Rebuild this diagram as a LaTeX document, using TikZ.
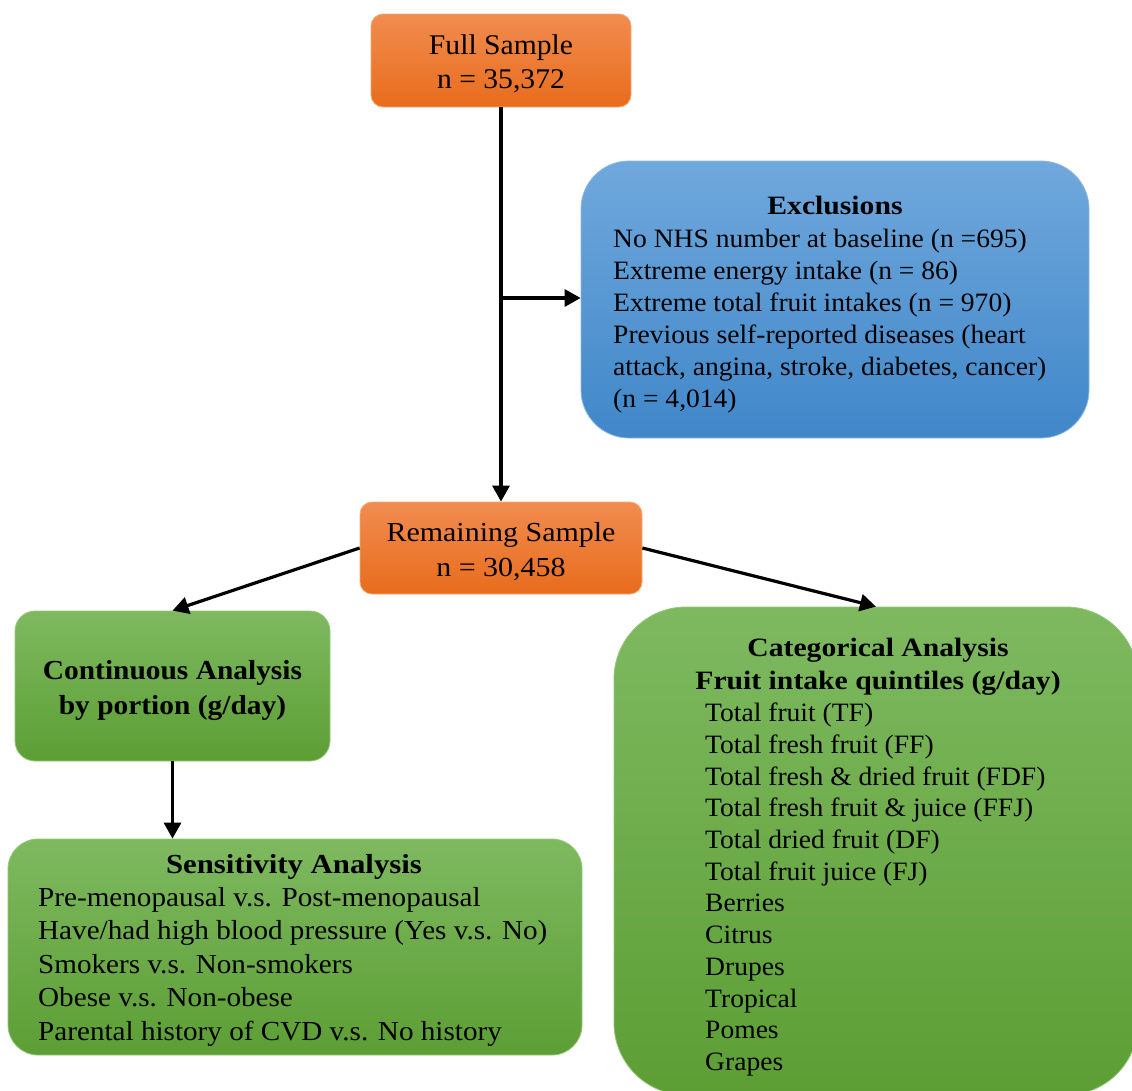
\documentclass[tikz,border=0pt]{standalone}
\usepackage{fontspec}
\setmainfont{Liberation Serif}[FakeStretch=1.04]
\newfontfamily\widefont{Liberation Serif}[FakeStretch=1.09]
\newfontfamily\listfont{Liberation Serif}[FakeStretch=1.06]
\newfontfamily\boldwide{Liberation Serif}[FakeStretch=1.12]
\newfontfamily\boldmid{Liberation Serif}[FakeStretch=1.07]
\usetikzlibrary{arrows.meta}

\definecolor{orTop}{RGB}{241,140,80}
\definecolor{orBot}{RGB}{232,108,28}
\definecolor{orEdge}{RGB}{246,170,120}
\definecolor{blTop}{RGB}{112,168,220}
\definecolor{blBot}{RGB}{64,135,201}
\definecolor{blEdge}{RGB}{140,185,228}
\definecolor{grTop}{RGB}{126,185,96}
\definecolor{grBot}{RGB}{92,158,52}
\definecolor{grEdge}{RGB}{150,200,120}

\tikzset{
  orangebox/.style={draw=orEdge, line width=0.8pt, top color=orTop, bottom color=orBot,
    rounded corners=12pt, inner sep=0pt},
  bluebox/.style={draw=blEdge, line width=0.8pt, top color=blTop, bottom color=blBot,
    rounded corners=48pt, inner sep=0pt},
  greenbox/.style={draw=grEdge, line width=0.8pt, top color=grTop, bottom color=grBot,
    inner sep=0pt},
  txt/.style={inner sep=0pt, font=\fontsize{26.5}{32}\selectfont},
  bigtxt/.style={inner sep=0pt, font=\fontsize{28.5}{32}\selectfont},
  ttl/.style={inner sep=0pt, font=\boldwide\bfseries\fontsize{26.5}{32}\selectfont},
  ntxt/.style={inner sep=0pt, font=\widefont\fontsize{27.5}{32}\selectfont},
  ltxt/.style={inner sep=0pt, font=\listfont\fontsize{27.5}{32}\selectfont},
  btxt/.style={inner sep=0pt, font=\boldwide\bfseries\fontsize{27.5}{32}\selectfont},
  ctxt/.style={inner sep=0pt, font=\boldmid\bfseries\fontsize{27.5}{32}\selectfont},
  arr/.style={line width=3.2pt, -{Triangle[length=16pt,width=17pt]}},
}

\begin{document}
\begin{tikzpicture}[x=1pt,y=-1pt]
\useasboundingbox[fill=white] (0,0) rectangle (1132,1090);

% boxes
\node[orangebox, minimum width=260pt, minimum height=93pt] (full) at (501,60.5) {};
\node[bluebox, minimum width=508pt, minimum height=277pt] (excl) at (835,299.5) {};
\node[orangebox, minimum width=282pt, minimum height=92pt] (rem) at (501,548) {};
\node[greenbox, rounded corners=20pt, minimum width=315pt, minimum height=150pt] (cont) at (172.5,686) {};
\node[greenbox, rounded corners=30pt, minimum width=574pt, minimum height=216pt] (sens) at (295,947) {};
\node[greenbox, rounded corners=72pt, minimum width=524pt, minimum height=488pt] (cat) at (876,851) {};

% full sample
\node[bigtxt, anchor=base] (fullA) at (501,54) {Full Sample};
\node[bigtxt, anchor=base] (fullB) at (501,88) {n = 35,372};

% exclusions
\node[ttl, anchor=base] (exT) at (835,214) {Exclusions};
\foreach \t [count=\i] in {No NHS number at baseline (n =695),
    Extreme energy intake (n = 86),
    Extreme total fruit intakes (n = 970),
    Previous self-reported diseases (heart,
    {attack, angina, stroke, diabetes, cancer)},
    {(n = 4,014)}}
  \node[txt, anchor=base west] (ex\i) at (613,{215+32*\i}) {\t};

% remaining sample
\node[ntxt, anchor=base] (remA) at (501,541) {Remaining Sample};
\node[ntxt, anchor=base] (remB) at (501,576) {n = 30,458};

% continuous analysis
\node[ctxt, anchor=base] (contA) at (172.5,679) {Continuous Analysis};
\node[ctxt, anchor=base] (contB) at (172.5,714) {by portion (g/day)};

% sensitivity analysis
\node[btxt, anchor=base] (sensT) at (294,873) {Sensitivity Analysis};
\foreach \t [count=\i] in {Pre-menopausal v.s. Post-menopausal,
    Have/had high blood pressure (Yes v.s. No),
    Smokers v.s. Non-smokers,
    Obese v.s. Non-obese,
    Parental history of CVD v.s. No history}
  \node[ltxt, anchor=base west] (se\i) at (38,{873+33.4*\i}) {\t};

% categorical analysis
\node[ttl, anchor=base] (catA) at (878,656) {Categorical Analysis};
\node[ttl, anchor=base] (catB) at (878,689) {Fruit intake quintiles (g/day)};
\foreach \t [count=\i] in {Total fruit (TF),
    Total fresh fruit (FF),
    Total fresh \& dried fruit (FDF),
    Total fresh fruit \& juice (FFJ),
    Total dried fruit (DF),
    Total fruit juice (FJ),
    Berries, Citrus, Drupes, Tropical, Pomes, Grapes}
  \node[txt, anchor=base west] (ca\i) at (705,{690+31.7*\i}) {\t};

% connectors
\coordinate (split) at (501,298);
\draw[arr] (full.south) -- (rem.north);
\draw[arr] (split) -- (excl.west |- split);
\draw[arr] (rem.west) -- (cont.north);
\draw[arr] (rem.east) -- (cat.north);
\draw[arr] (cont.south) -- (cont.south |- sens.north);
\end{tikzpicture}
\end{document}
